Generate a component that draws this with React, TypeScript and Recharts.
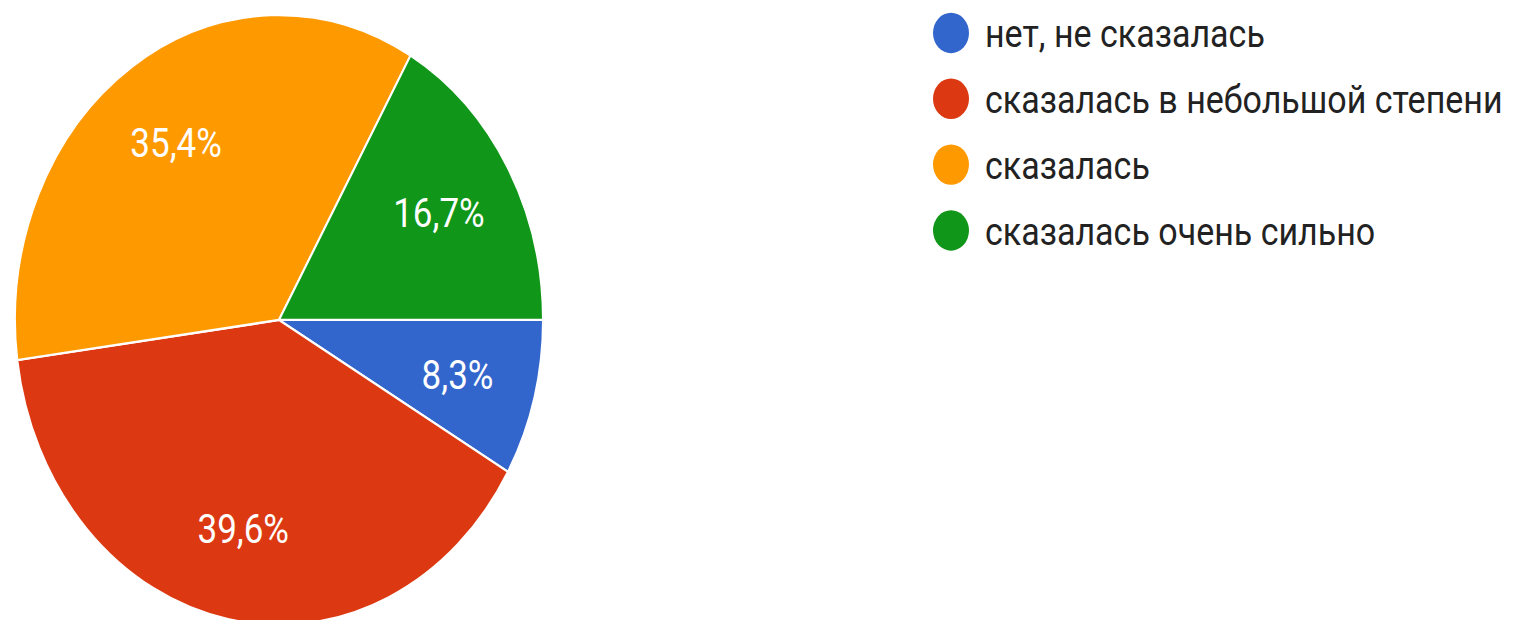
import * as React from 'react'
import { PieChart, Pie, Cell } from 'recharts'

const answers = [
  'нет, не сказалась',
  'сказалась в небольшой степени',
  'сказалась',
  'сказалась очень сильно',
]
const shares = [8.3, 39.6, 35.4, 16.7]
const colors = ['#3366cc', '#dc3912', '#ff9900', '#109618']

const data = answers.map((name, i) => ({ name, value: shares[i] }))

// the reference is a screenshot stretched vertically
const STRETCH = 1.155
const W = 1520
const H = Math.round(620 / STRETCH)
const RAD = Math.PI / 180
const FONT = 'Roboto, Arial, sans-serif'

const renderLabel = (p: any) => {
  const r = p.outerRadius * 0.7
  const x = p.cx + r * Math.cos(-p.midAngle * RAD)
  const y = p.cy + r * Math.sin(-p.midAngle * RAD)
  return (
    <text
      x={x}
      y={y}
      fill="#fff"
      fontSize={35}
      fontFamily={FONT}
      textAnchor="middle"
      dominantBaseline="central"
    >
      {p.value.toFixed(1).replace('.', ',')}%
    </text>
  )
}

function ChartLegend() {
  return (
    <div style={{ position: 'absolute', left: 933, top: 0, fontFamily: FONT }}>
      {answers.map((name, i) => (
        <div key={name} style={{ display: 'flex', alignItems: 'center', height: 57 }}>
          <span
            style={{
              width: 36,
              height: 35,
              borderRadius: '50%',
              background: colors[i],
              marginRight: 16,
              flex: 'none',
            }}
          />
          <span style={{ fontSize: 34, color: '#222', whiteSpace: 'nowrap' }}>{name}</span>
        </div>
      ))}
    </div>
  )
}

export default function App() {
  return (
    <div
      style={{
        position: 'absolute',
        left: 0,
        top: 0,
        width: W,
        height: 620,
        overflow: 'hidden',
        background: '#fff',
      }}
    >
      <div
        style={{
          position: 'relative',
          width: W,
          height: H,
          transform: `scaleY(${STRETCH})`,
          transformOrigin: '0 0',
        }}
      >
        <PieChart width={W} height={H} margin={{ top: 0, right: 0, bottom: 0, left: 0 }}>
          <Pie
            data={data}
            dataKey="value"
            nameKey="name"
            cx={279}
            cy={277}
            outerRadius={264}
            startAngle={0}
            endAngle={-360}
            stroke="#fff"
            strokeWidth={2}
            label={renderLabel}
            labelLine={false}
            isAnimationActive={false}
          >
            {data.map((d, i) => (
              <Cell key={d.name} fill={colors[i]} />
            ))}
          </Pie>
        </PieChart>
        <ChartLegend />
      </div>
    </div>
  )
}
